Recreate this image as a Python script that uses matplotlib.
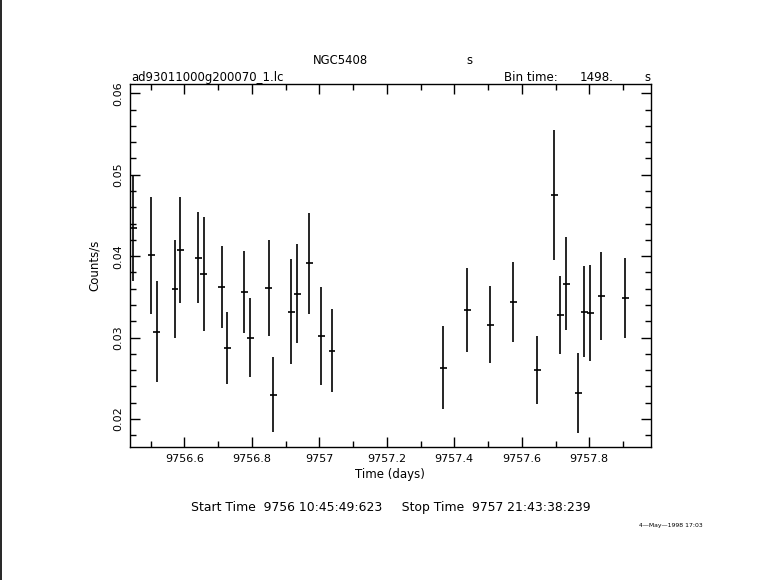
import matplotlib
matplotlib.use("Agg")
import matplotlib.pyplot as plt
from matplotlib.ticker import MultipleLocator, FuncFormatter
from matplotlib.lines import Line2D

plt.rcParams['font.family'] = ['DejaVu Sans']

# Data: time (days), count rate (counts/s), 1-sigma error
time_days = [9756.4489, 9756.5022, 9756.5182, 9756.5724, 9756.5881, 9756.6415,
             9756.6575, 9756.7108, 9756.7274, 9756.7778, 9756.7956, 9756.8501,
             9756.8637, 9756.9170, 9756.9348, 9756.9704, 9757.0059, 9757.0376,
             9757.3674, 9757.4385, 9757.5067, 9757.5748, 9757.6459, 9757.6963,
             9757.7141, 9757.7319, 9757.7674, 9757.7852, 9757.8030, 9757.8356,
             9757.9067]
rate = [0.0434, 0.0401, 0.0307, 0.0360, 0.0408, 0.0398,
        0.0378, 0.0362, 0.0287, 0.0356, 0.0300, 0.0361,
        0.0230, 0.0332, 0.0354, 0.0391, 0.0302, 0.0284,
        0.0263, 0.0334, 0.0316, 0.0344, 0.0260, 0.0475,
        0.0328, 0.0366, 0.0232, 0.0332, 0.0330, 0.0351,
        0.0349]
rate_err = [0.0064, 0.0072, 0.0062, 0.0060, 0.0065, 0.0056,
            0.0070, 0.0050, 0.0044, 0.0050, 0.0048, 0.0059,
            0.0046, 0.0065, 0.0061, 0.0062, 0.0060, 0.0051,
            0.0051, 0.0052, 0.0047, 0.0049, 0.0042, 0.0080,
            0.0048, 0.0057, 0.0049, 0.0056, 0.0059, 0.0054,
            0.0049]
bin_time_s = 1498.0
half_bin_days = bin_time_s / 86400.0 / 2.0

W, H = 781, 580
fig = plt.figure(figsize=(W / 100, H / 100), dpi=100)
fig.patch.set_facecolor('white')

def fx(px):
    return px / W

def fy(py):
    return 1 - py / H

ax = fig.add_axes([fx(130), fy(446.7), fx(650.7) - fx(130), fy(84.3) - fy(446.7)])
ax.errorbar(time_days, rate, yerr=rate_err, xerr=half_bin_days * 1.15, fmt='none',
            ecolor='black', elinewidth=1.2, capsize=0)

ax.set_xlim(9756.439, 9757.982)
ax.set_ylim(0.0166, 0.0611)
ax.xaxis.set_major_locator(MultipleLocator(0.2))
ax.xaxis.set_minor_locator(MultipleLocator(0.1))
ax.yaxis.set_major_locator(MultipleLocator(0.01))
ax.yaxis.set_minor_locator(MultipleLocator(0.002))
ax.tick_params(which='both', direction='in', top=True, right=True, width=1,
               labelsize=8, colors='black')
ax.tick_params(which='major', length=7.5, pad=5)
ax.tick_params(which='minor', length=4)
ax.xaxis.set_major_formatter(FuncFormatter(
    lambda v, p: ('%.1f' % v) if abs(v - round(v)) > 1e-6 else '%d' % round(v)))
ax.yaxis.set_major_formatter(FuncFormatter(lambda v, p: '%.2f' % v))
for lab in ax.get_yticklabels():
    lab.set_rotation(90)
    lab.set_va('center')
for s in ax.spines.values():
    s.set_linewidth(1)

ax.set_xlabel('Time (days)', fontsize=8.5, labelpad=3)
ax.set_ylabel('Counts/s', fontsize=8.5, labelpad=9)

fs = 8.4
fig.text(fx(340), fy(61), 'NGC5408', ha='center', va='center', fontsize=fs)
fig.text(fx(469), fy(61), 's', ha='center', va='center', fontsize=fs)
fig.text(fx(131), fy(78), 'ad93011000g200070_1.lc', ha='left', va='center', fontsize=fs)
fig.text(fx(504), fy(78), 'Bin time:', ha='left', va='center', fontsize=8.6)
fig.text(fx(614), fy(78), '%d.' % bin_time_s, ha='right', va='center', fontsize=8.6)
fig.text(fx(650), fy(78), 's', ha='right', va='center', fontsize=fs)
fig.text(fx(391), fy(508),
         'Start Time  9756 10:45:49:623     Stop Time  9757 21:43:38:239',
         ha='center', va='center', fontsize=8.9)
fig.text(fx(703), fy(525), '4\u2014May\u20141998 17:03', ha='right', va='center', fontsize=4.4)

fig.add_artist(Line2D([fx(0.8), fx(0.8)], [0, 1], color='black', lw=1.2,
                      transform=fig.transFigure))

fig.savefig('out.png', dpi=100, facecolor='white')
